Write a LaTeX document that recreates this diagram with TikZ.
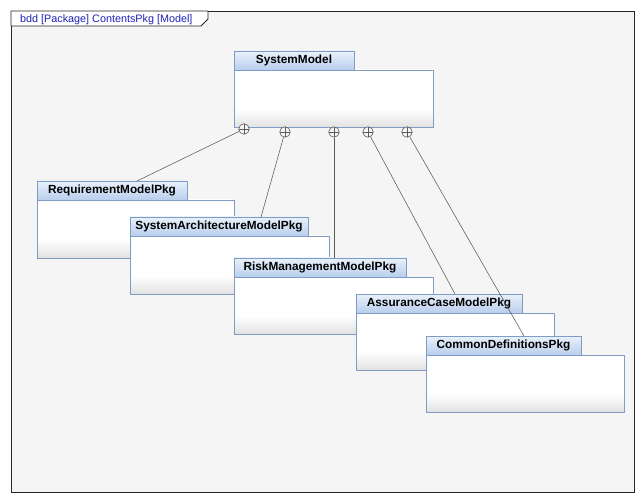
\documentclass[tikz,border=0pt]{standalone}
\usepackage{fontspec}
\setmainfont{Liberation Sans}
\definecolor{framebg}{HTML}{F5F5F5}
\definecolor{hdrblue}{HTML}{1E22B8}
\definecolor{pkgborder}{HTML}{7E9CC4}
\definecolor{tabtop}{HTML}{EAF1FB}
\definecolor{tabbot}{HTML}{B8CEEC}
\definecolor{bodybot}{HTML}{E2E2E2}
\definecolor{linkgray}{HTML}{5A5A5A}
\pgfdeclareverticalshading{pkgbodyshade}{100bp}{color(0bp)=(bodybot); color(25bp)=(bodybot); color(41bp)=(white); color(100bp)=(white)}
\begin{document}
\begin{tikzpicture}[x=1pt,y=-1pt,
  pkgtab/.style={draw=pkgborder, line width=0.8pt, top color=tabtop, bottom color=tabbot,
    anchor=north west, inner sep=0pt, outer sep=0pt, minimum height=19pt,
    font=\fontsize{11.8pt}{12pt}\selectfont\bfseries, text=black},
  pkgbody/.style={draw=pkgborder, line width=0.8pt, shading=pkgbodyshade,
    anchor=north west, inner sep=0pt, outer sep=0pt},
  contain/.style={circle, draw=linkgray, line width=0.6pt, fill=framebg, minimum size=10.5pt, inner sep=0pt,
    path picture={\draw[linkgray, line width=0.6pt]
      (path picture bounding box.north) -- (path picture bounding box.south)
      (path picture bounding box.west) -- (path picture bounding box.east);}},
  link/.style={draw=linkgray, line width=0.55pt}
]
\useasboundingbox (0,0) rectangle (644,502);
% frame
\node[draw=black!85, line width=1pt, fill=framebg, anchor=north west, minimum width=623pt, minimum height=481pt, inner sep=0pt] (frame) at (11,11) {};
\filldraw[fill=white, draw=black!85, line width=0.8pt] (11,11) -- (208,11) -- (208,19) -- (201,26) -- (11,26) -- cycle;
\node[anchor=base west, text=hdrblue, font=\fontsize{10.8pt}{12pt}\selectfont, inner sep=0pt] (hdr) at (20,22.5) {bdd [Package] ContentsPkg [Model]};

% SystemModel
\node[pkgbody, minimum width=199pt, minimum height=57pt] (smB) at (234,70) {};
\node[pkgtab, minimum width=120pt] (smT) at (234,51) {SystemModel};

% RequirementModelPkg
\node[pkgbody, minimum width=197pt, minimum height=58pt] (reqB) at (37,200) {};
\node[pkgtab, minimum width=150pt] (reqT) at (37,181) {RequirementModelPkg};

% SystemArchitectureModelPkg
\node[pkgbody, minimum width=199pt, minimum height=58pt] (sarB) at (130,236) {};
\node[pkgtab, minimum width=178pt] (sarT) at (130,217) {SystemArchitectureModelPkg};

% RiskManagementModelPkg
\node[pkgbody, minimum width=199pt, minimum height=57pt] (rmB) at (234,277) {};
\node[pkgtab, minimum width=172pt] (rmT) at (234,258) {RiskManagementModelPkg};

% AssuranceCaseModelPkg
\node[pkgbody, minimum width=198pt, minimum height=57pt] (acB) at (356,313) {};
\node[pkgtab, minimum width=166pt] (acT) at (356,294) {AssuranceCaseModelPkg};

% CommonDefinitionsPkg
\node[pkgbody, minimum width=198pt, minimum height=57pt] (cdB) at (426,355) {};
\node[pkgtab, minimum width=155pt] (cdT) at (426,336) {CommonDefinitionsPkg};

% containment ends
\coordinate (e1) at (137,181);
\coordinate (e2) at (261,217);
\coordinate (e3) at (334,258);
\coordinate (e4) at (455,294);
\coordinate (e5) at (524,336);

% containment symbols
\node[contain] (c1) at (244,129) {};
\node[contain] (c2) at (285,132) {};
\node[contain] (c3) at (334,132) {};
\node[contain] (c4) at (368,132) {};
\node[contain] (c5) at (407,132) {};

% connectors
\draw[link] (c1) -- (e1);
\draw[link] (c2) -- (e2);
\draw[link] (c3) -- (e3);
\draw[link] (c4) -- (e4);
\draw[link] (c5) -- (e5);
\end{tikzpicture}
\end{document}
